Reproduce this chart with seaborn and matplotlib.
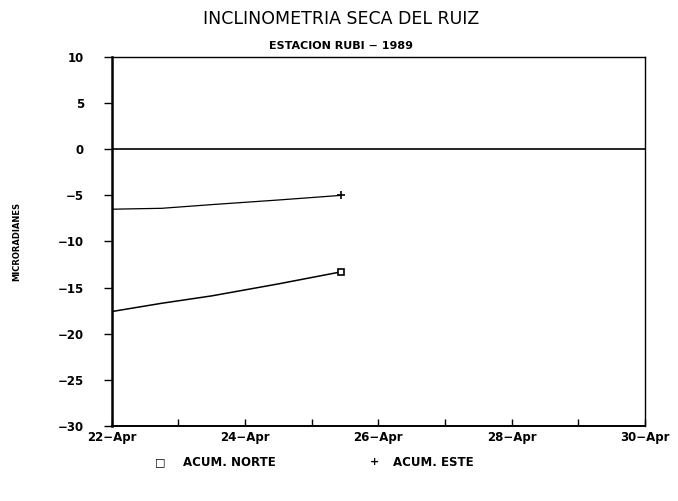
import pandas as pd
import matplotlib.pyplot as plt
import matplotlib.dates as mdates
import seaborn as sns

# datos
fechas = ["1989-04-22 00:00", "1989-04-22 18:00", "1989-04-23 12:00",
          "1989-04-24 12:00", "1989-04-25 10:30"]
acum_norte = [-17.6, -16.7, -15.9, -14.6, -13.3]
acum_este = [-6.5, -6.4, -6.0, -5.5, -5.0]

y_ticks = [10, 5, 0, -5, -10, -15, -20, -25, -30]

sns.set_theme(style="white")
plt.rcParams["font.family"] = ["DejaVu Sans"]
plt.rcParams["text.color"] = "black"
plt.rcParams["axes.labelcolor"] = "black"
plt.rcParams["xtick.color"] = "black"
plt.rcParams["ytick.color"] = "black"

df = pd.DataFrame({
    "Fecha": pd.to_datetime(fechas),
    "Norte": acum_norte,
    "Este": acum_este,
})

fig = plt.figure(figsize=(6.78, 5.01), dpi=100)
ax = fig.add_axes([0.165, 0.150, 0.786, 0.736])

sns.lineplot(data=df, x="Fecha", y="Norte", ax=ax, color="black", lw=1.1,
             marker="s", markevery=[len(df) - 1], markersize=5,
             markerfacecolor="white", markeredgecolor="black", markeredgewidth=1.2)
sns.lineplot(data=df, x="Fecha", y="Este", ax=ax, color="black", lw=0.9,
             marker="+", markevery=[len(df) - 1], markersize=6,
             markeredgecolor="black", markeredgewidth=1.2)

ax.axhline(0, color="black", lw=1.2)

ax.set_xlim(pd.Timestamp("1989-04-22"), pd.Timestamp("1989-04-30"))
ax.set_ylim(-30, 10)
ax.set_yticks(y_ticks)
ax.set_yticklabels([str(v).replace("-", "\u2212") for v in y_ticks],
                   fontsize=8.5, fontweight="bold")
ax.xaxis.set_major_locator(mdates.DayLocator(interval=2))
ax.xaxis.set_minor_locator(mdates.DayLocator(interval=1))
ax.xaxis.set_major_formatter(mdates.DateFormatter("%d\u2212%b"))
for lab in ax.get_xticklabels():
    lab.set_fontsize(8.5)
    lab.set_fontweight("bold")

ax.tick_params(axis="y", which="major", direction="out", length=6, width=1,
               left=True, pad=14)
ax.tick_params(axis="x", which="both", direction="in", length=5, width=1,
               bottom=True, pad=4)

for s in ax.spines.values():
    s.set_color("black")
    s.set_linewidth(1.0)
ax.spines["left"].set_linewidth(1.8)
ax.spines["bottom"].set_linewidth(1.4)

ax.set_xlabel("")
ax.set_ylabel("MICRORADIANES", fontsize=6, fontweight="bold", labelpad=26)

fig.text(0.503, 0.962, "INCLINOMETRIA SECA DEL RUIZ", ha="center", va="center",
         fontsize=12.5)
fig.text(0.503, 0.909, "ESTACION RUBI \u2212 1989", ha="center", va="center",
         fontsize=8, fontweight="bold")

# leyenda
fig.text(0.236, 0.077, "\u25a1", ha="center", va="center", fontsize=8)
fig.text(0.27, 0.077, "ACUM. NORTE", ha="left", va="center", fontsize=8.5,
         fontweight="bold")
fig.text(0.553, 0.077, "+", ha="center", va="center", fontsize=8,
         fontweight="bold")
fig.text(0.58, 0.077, "ACUM. ESTE", ha="left", va="center", fontsize=8.5,
         fontweight="bold")

fig.savefig("out.png", dpi=100)
